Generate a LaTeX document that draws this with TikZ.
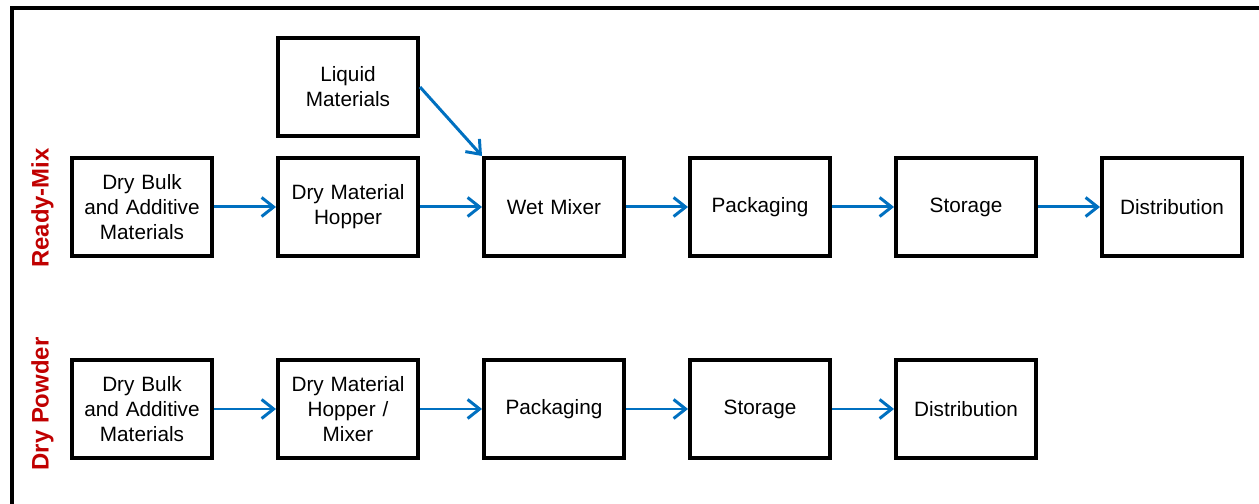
\documentclass[tikz,border=0pt]{standalone}
\usepackage{fontspec}
\setmainfont{Liberation Sans}
\usepackage{xcolor}
\usepackage{tikz}
\usetikzlibrary{positioning}
\usetikzlibrary{arrows.meta}
\usetikzlibrary{shadows}
\definecolor{flowblue}{HTML}{0070C0}
\definecolor{labelred}{HTML}{C00000}

\begin{document}
\begin{tikzpicture}
    \tikzset{Stage/.style={rectangle, draw, line width=0.08cm, text centered, align=center, inner sep=0.1cm, text width=2.6cm, minimum width=2.8cm, minimum height=1.96cm, fill=white, font=\fontsize{11.8}{14.2}\selectfont, drop shadow={opacity=0.2, shadow xshift=0.04cm, shadow yshift=-0.04cm}}};
    \tikzset{Flow/.style={-{Straight Barb[length=0.24cm,width=0.38cm]}, line width=1.7pt, draw=flowblue}};
    \tikzset{Side/.style={rotate=90, text=labelred, font=\fontsize{13.6}{16}\selectfont\bfseries}};
    \useasboundingbox (0,0) rectangle (25.18,10.08);
    % frame
    \draw[line width=0.08cm, line join=miter] (0.24,0) -- (0.24,9.92) -- (25.18,9.92);
    % ready-mix
    \node[Side] (rm) at (0.85,5.92) {Ready-Mix};
    \node[Stage] (r1) at (2.84,5.94) {Dry Bulk\\and Additive\\Materials};
    \node[Stage][right=1.24cm of r1] (r2) {Dry Material\\Hopper};
    \node[Stage][above=0.36cm of r2] (l) {Liquid\\Materials};
    \node[Stage][right=1.24cm of r2] (r3) {Wet Mixer};
    \node[Stage][right=1.24cm of r3] (r4) {Packaging};
    \node[Stage][right=1.24cm of r4] (r5) {Storage};
    \node[Stage][right=1.24cm of r5] (r6) {Distribution};
    \draw[Flow] (r1) -- (r2);
    \draw[Flow] (r2) -- (r3);
    \draw[Flow] (l.east) -- (r3.north west);
    \draw[Flow] (r3) -- (r4);
    \draw[Flow] (r4) -- (r5);
    \draw[Flow] (r5) -- (r6);
    % dry powder
    \node[Side] (dp) at (0.85,2.0) {Dry Powder};
    \node[Stage][below=2.0cm of r1] (d1) {Dry Bulk\\and Additive\\Materials};
    \node[Stage][right=1.24cm of d1] (d2) {Dry Material\\Hopper /\\Mixer};
    \node[Stage][right=1.24cm of d2] (d3) {Packaging};
    \node[Stage][right=1.24cm of d3] (d4) {Storage};
    \node[Stage][right=1.24cm of d4] (d5) {Distribution};
    \draw[Flow] (d1) -- (d2);
    \draw[Flow] (d2) -- (d3);
    \draw[Flow] (d3) -- (d4);
    \draw[Flow] (d4) -- (d5);
  \end{tikzpicture}
\end{document}
